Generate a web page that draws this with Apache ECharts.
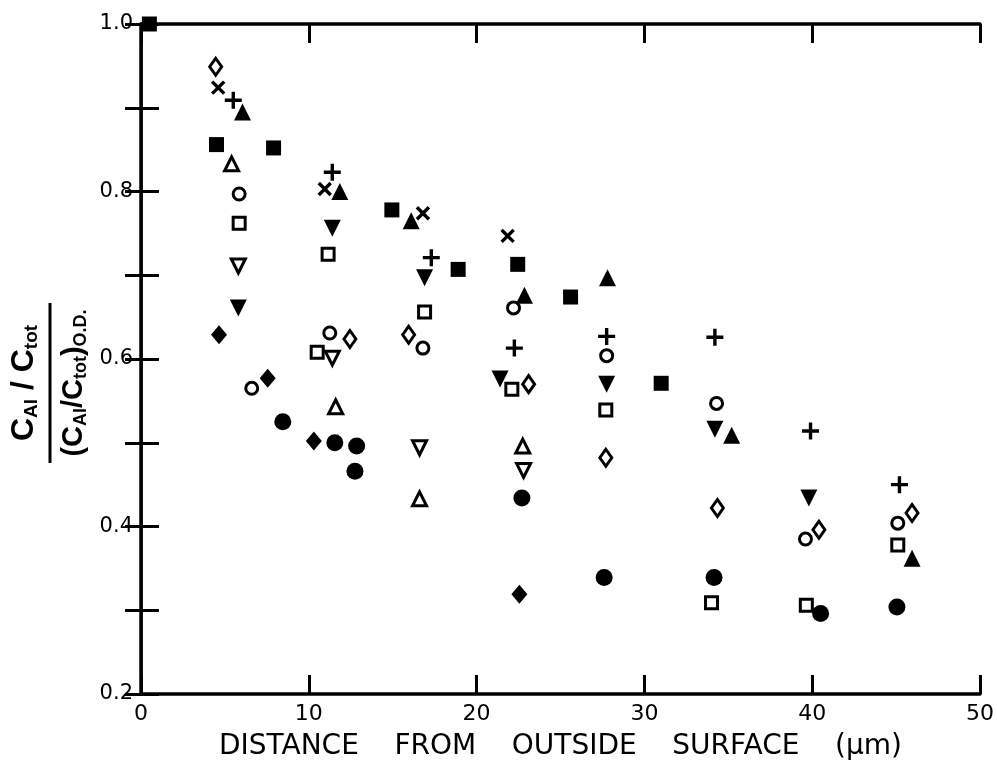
<!DOCTYPE html>
<html>
<head>
<meta charset="utf-8">
<script src="https://cdn.jsdelivr.net/npm/echarts@6/dist/echarts.min.js"></script>
<style>
  html, body { margin: 0; padding: 0; background: #fff; }
  #main { width: 997px; height: 771px; }
</style>
</head>
<body>
<div id="main"></div>
<script>
// data: [distance um, normalised ratio]
var filledSquare = [[0.5, 1.0], [4.5, 0.856], [7.9, 0.852], [14.95, 0.778], [18.9, 0.707], [22.45, 0.713], [25.6, 0.674], [31.0, 0.571]];
var filledTriangle = [[6.05, 0.895], [11.85, 0.800], [16.1, 0.765], [22.85, 0.676], [27.8, 0.697], [35.2, 0.509], [45.95, 0.362]];
var plusMark = [[5.5, 0.909], [11.4, 0.823], [17.3, 0.721], [22.25, 0.613], [27.75, 0.627], [34.2, 0.626], [39.9, 0.514], [45.2, 0.450]];
var crossMark = [[4.6, 0.924], [10.95, 0.803], [16.8, 0.774], [21.85, 0.747]];
var openDiamond = [[4.45, 0.949], [12.45, 0.624], [15.95, 0.629], [23.1, 0.570], [27.7, 0.482], [34.35, 0.422], [40.4, 0.396], [45.95, 0.416]];
var openTriangle = [[5.4, 0.833], [11.6, 0.543], [16.6, 0.433], [22.75, 0.496]];
var openCircle = [[5.85, 0.797], [6.6, 0.565], [11.25, 0.631], [16.8, 0.613], [22.2, 0.661], [27.75, 0.604], [34.3, 0.547], [39.6, 0.385], [45.1, 0.404]];
var openSquare = [[5.85, 0.762], [11.15, 0.725], [10.5, 0.608], [16.9, 0.656], [22.1, 0.564], [27.7, 0.539], [34.0, 0.309], [39.65, 0.306], [45.1, 0.378]];
var openDownTriangle = [[5.8, 0.711], [11.4, 0.601], [16.6, 0.494], [22.8, 0.467]];
var filledDownTriangle = [[5.8, 0.661], [11.4, 0.756], [16.9, 0.697], [21.4, 0.576], [27.75, 0.570], [34.2, 0.516], [39.8, 0.434]];
var filledDiamond = [[4.65, 0.629], [7.55, 0.577], [10.3, 0.502], [22.55, 0.319]];
var filledCircle = [[8.45, 0.525], [11.55, 0.500], [12.85, 0.496], [12.75, 0.466], [22.7, 0.434], [27.6, 0.339], [34.15, 0.339], [40.5, 0.296], [45.05, 0.304]];

var xTicks = [0, 10, 20, 30, 40, 50];
var yTicks = [0.2, 0.4, 0.6, 0.8, 1.0];

var FONT = 'Liberation Sans';
var TICKFONT = 'DejaVu Sans';
var PLUS = 'path://M4,0H6V4H10V6H6V10H4V6H0V4H4Z';

function filled(name, data, symbol, size, rotate) {
    return {
        name: name, type: 'scatter', data: data,
        symbol: symbol, symbolSize: size, symbolRotate: rotate || 0,
        itemStyle: { color: '#000', borderWidth: 0, opacity: 1 },
        silent: true
    };
}
function hollow(name, data, symbol, size, rotate) {
    return {
        name: name, type: 'scatter', data: data,
        symbol: symbol, symbolSize: size, symbolRotate: rotate || 0,
        itemStyle: { color: '#fff', borderColor: '#000', borderWidth: 3, opacity: 1 },
        silent: true
    };
}

var myChart = echarts.init(document.getElementById('main'));
myChart.setOption({
    animation: false,
    backgroundColor: '#fff',
    grid: { left: 141, right: 15, top: 24, bottom: 77 },
    xAxis: [
        {
            type: 'value', min: 0, max: 50, interval: 10,
            name: 'DISTANCE    FROM    OUTSIDE    SURFACE    (μm)',
            nameLocation: 'middle', nameGap: 39,
            nameTextStyle: { fontFamily: 'DejaVu Sans', fontSize: 28, color: '#000' },
            axisLine: { lineStyle: { color: '#000', width: 3.5 } },
            axisTick: { inside: true, length: 19, lineStyle: { color: '#000', width: 3 } },
            axisLabel: {
                margin: 9, fontFamily: TICKFONT, fontSize: 22, color: '#000',
                formatter: function (v) { return xTicks.indexOf(v) >= 0 ? String(v) : ''; }
            },
            splitLine: { show: false }
        },
        {
            type: 'value', position: 'top', min: 0, max: 50, interval: 10,
            axisLine: { lineStyle: { color: '#000', width: 3.5 } },
            axisTick: { inside: true, length: 19, lineStyle: { color: '#000', width: 3 } },
            axisLabel: { show: false },
            splitLine: { show: false }
        }
    ],
    yAxis: [
        {
            type: 'value', min: 0.2, max: 1.0, interval: 0.1,
            axisLine: { lineStyle: { color: '#000', width: 3.5 } },
            axisTick: { inside: true, length: 18, lineStyle: { color: '#000', width: 3 } },
            axisLabel: {
                margin: 8, fontFamily: TICKFONT, fontSize: 21, color: '#000',
                formatter: function (v) {
                    var r = Math.round(v * 10) / 10;
                    return yTicks.indexOf(r) >= 0 ? r.toFixed(1) : '';
                }
            },
            splitLine: { show: false }
        },
        {
            type: 'value', position: 'right', min: 0.2, max: 1.0, interval: 0.1,
            axisLine: { lineStyle: { color: '#000', width: 2.5 } },
            axisTick: { inside: true, length: 16, lineStyle: { color: '#000', width: 3 } },
            axisLabel: { show: false },
            splitLine: { show: false }
        }
    ],
    graphic: [
        {
            type: 'group', x: 50, y: 383, rotation: Math.PI / 2,
            children: [
                {
                    type: 'line',
                    shape: { x1: -80, y1: 0, x2: 80, y2: 0 },
                    style: { stroke: '#000', lineWidth: 3 }
                },
                {
                    type: 'text', x: 0, y: -9,
                    style: {
                        text: '{c|C}{s|Al}{c| / C}{s|tot}',
                        align: 'center', verticalAlign: 'bottom',
                        rich: {
                            c: { fontFamily: FONT, fontSize: 32, fontWeight: 'bold', lineHeight: 34, verticalAlign: 'middle', fill: '#000' },
                            s: { fontFamily: FONT, fontSize: 19, fontWeight: 'bold', lineHeight: 19, verticalAlign: 'bottom', fill: '#000' }
                        }
                    }
                },
                {
                    type: 'text', x: 0, y: 8,
                    style: {
                        text: '{c|(C}{s|Al}{c|/C}{s|tot}{c|)}{s|O.D.}',
                        align: 'center', verticalAlign: 'top',
                        rich: {
                            c: { fontFamily: FONT, fontSize: 29, fontWeight: 'bold', lineHeight: 32, verticalAlign: 'middle', fill: '#000' },
                            s: { fontFamily: FONT, fontSize: 18, fontWeight: 'bold', lineHeight: 18, verticalAlign: 'bottom', fill: '#000' }
                        }
                    }
                }
            ]
        }
    ],
    series: [
        filled('filled square', filledSquare, 'rect', 15),
        filled('filled triangle', filledTriangle, 'triangle', 17),
        filled('plus', plusMark, PLUS, 17),
        filled('cross', crossMark, PLUS, 17, 45),
        hollow('open diamond', openDiamond, 'diamond', [12, 17]),
        hollow('open triangle', openTriangle, 'triangle', 14),
        hollow('open circle', openCircle, 'circle', 12),
        hollow('open square', openSquare, 'rect', 12),
        hollow('open down triangle', openDownTriangle, 'triangle', 14, 180),
        filled('filled down triangle', filledDownTriangle, 'triangle', 17, 180),
        filled('filled diamond', filledDiamond, 'diamond', [16, 19]),
        filled('filled circle', filledCircle, 'circle', 17)
    ]
});
</script>
</body>
</html>
